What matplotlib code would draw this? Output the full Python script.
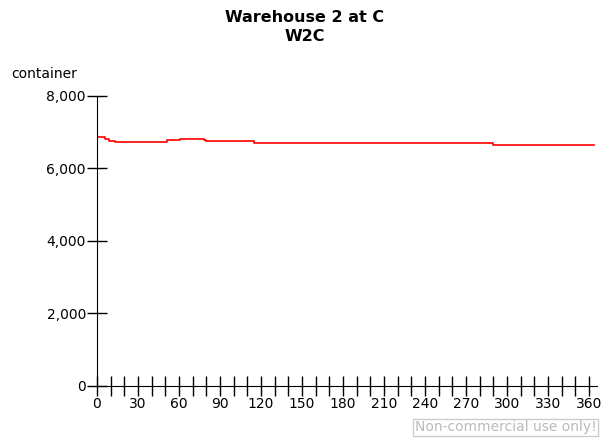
import matplotlib.pyplot as plt
import numpy as np

# step data: day where level starts, container count
days = [0, 6, 9, 13, 51, 61, 78, 80, 115, 290, 364]
stock = [6860, 6800, 6765, 6740, 6780, 6820, 6790, 6750, 6710, 6650, 6650]

fig = plt.figure(figsize=(6.10, 4.38), dpi=100)
ax = fig.add_axes((0.159, 0.119, 0.82, 0.662))

ax.step(days, stock, where='post', color='red', lw=1.2)

ax.set_xlim(0, 366)
ax.set_ylim(0, 8000)
ax.set_xticks(np.arange(0, 361, 10))
ax.set_xticklabels([str(d) if d % 30 == 0 else '' for d in range(0, 361, 10)])
ax.set_yticks([0, 2000, 4000, 6000, 8000])
ax.set_yticklabels(['0', '2,000', '4,000', '6,000', '8,000'])
ax.tick_params(direction='inout', length=14, width=1, labelsize=10, pad=1)
for s in ['top', 'right']:
    ax.spines[s].set_visible(False)
ax.spines['left'].set_bounds(0, 8000)
ax.spines['left'].set_position(('data', 0))
ax.spines['bottom'].set_position(('data', 0))

fig.text(0.5, 0.938, 'Warehouse 2 at C\nW2C', ha='center', va='center',
         fontsize=11.5, fontweight='bold', linespacing=1.3)
fig.text(0.018, 0.832, 'container', fontsize=10, va='center')
fig.text(0.978, 0.008, 'Non-commercial use only!', ha='right', va='bottom',
         fontsize=10, color='#bbbbbb',
         bbox=dict(boxstyle='square,pad=0.1', fc='white', ec='#cccccc'))

fig.savefig('out.png', dpi=100)
